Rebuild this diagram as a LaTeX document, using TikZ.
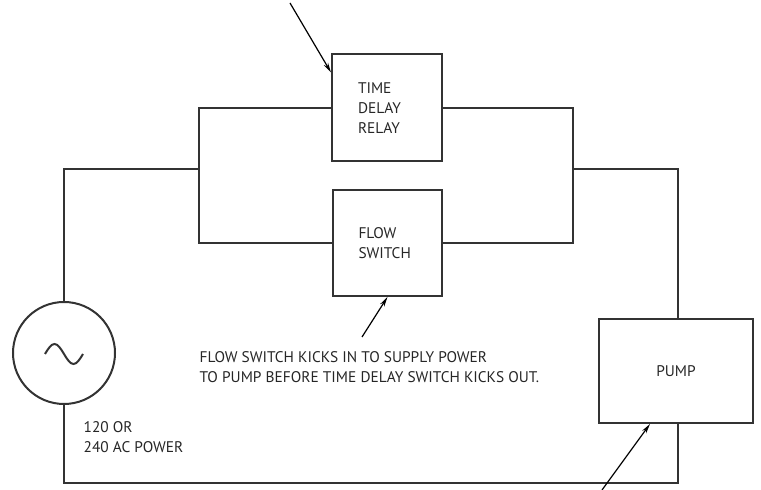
\documentclass[tikz,border=0pt]{standalone}
\usepackage{fontspec}
\setmainfont{PT Sans}
\usetikzlibrary{arrows.meta}
\begin{document}
\begin{tikzpicture}[x=0.5pt, y=-0.5pt, line width=1pt, draw=black!80, text=black!85,
  font=\fontsize{7.7}{10}\selectfont,
  box/.style={rectangle, draw, inner sep=0pt},
  wire/.style={line cap=rect, line join=miter},
  pointer/.style={-{Stealth[length=5pt, width=2.4pt]}, line width=0.6pt, draw=black}]
  \useasboundingbox (0,0) rectangle (761,490);
  % Nodes
  \node (tdr) [box, minimum height=53.5pt, minimum width=55pt, text width=29pt, align=left] at (387,108) {TIME\\DELAY\\RELAY};
  \node (fs) [box, minimum height=53pt, minimum width=54.5pt, text width=29pt, align=left] at (387.5,243) {FLOW\\SWITCH};
  \node (pump) [box, minimum height=52pt, minimum width=77pt] at (676,371) {PUMP};
  \node (src) [circle, draw, minimum size=51pt, inner sep=0pt] at (64,353) {};
  \node (note) [anchor=north west, align=left] at (192,344) {FLOW SWITCH KICKS IN TO SUPPLY POWER\\TO PUMP BEFORE TIME DELAY SWITCH KICKS OUT.};
  \node (volt) [anchor=north west, align=left] at (76,414) {120 OR\\240 AC POWER};
  \coordinate (tdr-from) at (290,3);
  \coordinate (fs-from) at (362,337);
  \coordinate (pump-from) at (602,490);
  % Sine symbol
  \draw ([shift={(-19,1)}]src.center) sin ++(9.5,-10) cos ++(9.5,10) sin ++(9.5,10) cos ++(9.5,-10);
  % Wires
  \draw[wire] (src.north) |- (199,169);
  \draw[wire] (tdr.west) -| (199,169) |- (fs.west);
  \draw[wire] (tdr.east) -| (573,169) |- (fs.east);
  \draw[wire] (573,169) -| ([xshift=1pt]pump.north);
  \draw[wire] ([xshift=1pt]pump.south) |- (64,483) -- (src.south);
  % Arrows
  \draw[pointer] (tdr-from) -- ([yshift=-9.5pt]tdr.north west);
  \draw[pointer] (fs-from) -- (fs.south);
  \draw[pointer] (pump-from) -- ([xshift=-13pt]pump.south);
\end{tikzpicture}
\end{document}
